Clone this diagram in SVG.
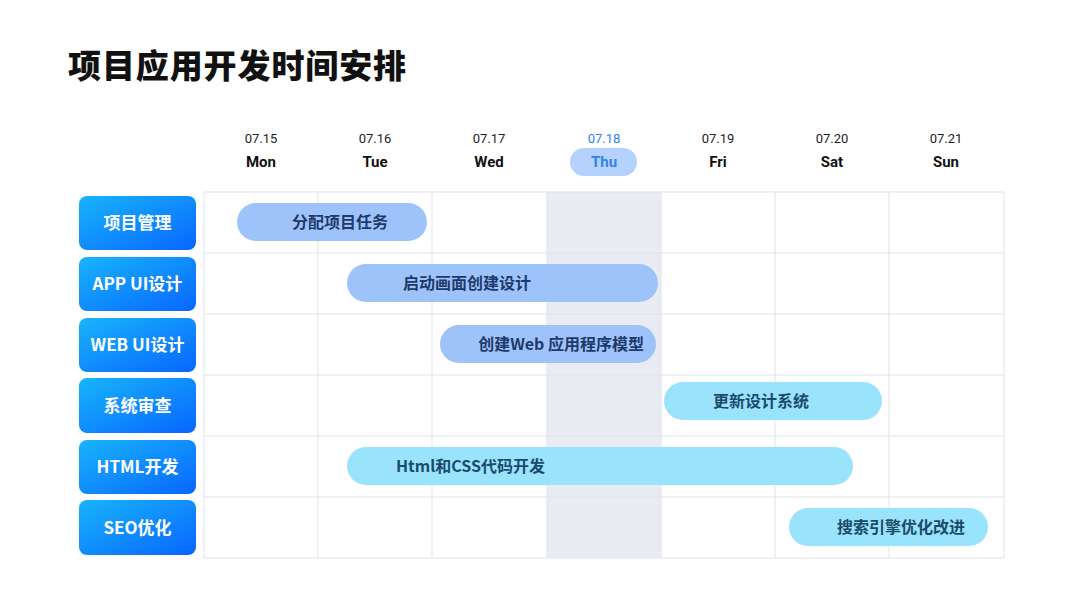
<svg xmlns="http://www.w3.org/2000/svg" width="1080" height="608" viewBox="0 0 1080 608">
<defs>
<linearGradient id="lg" x1="0" y1="0" x2="1" y2="1">
<stop offset="0" stop-color="#18b4fb"/>
<stop offset="1" stop-color="#0866ff"/>
</linearGradient>
<style>
text{font-family:"Noto Sans CJK SC","Noto Sans",Roboto,sans-serif}
.title{font-size:33px;font-weight:900;fill:#111;letter-spacing:0.9px}
.date{font-size:13px;fill:#222;font-family:Roboto,"Noto Sans",sans-serif}
.day{font-size:15px;font-weight:700;fill:#111;font-family:Roboto,"Noto Sans",sans-serif}
.grid{stroke:#e0e3e9;stroke-width:1;fill:none}
.lab rect{fill:url(#lg)}
.lab text{font-size:17px;font-weight:700;fill:#fff;text-anchor:middle}
.bb{fill:#9ec3fb}
.bc{fill:#9ae3fc}
.tb{font-size:16px;font-weight:700;fill:#1e3a6a}
.tc{font-size:16px;font-weight:700;fill:#1a4c6a}
</style>
</defs>
<rect width="1080" height="608" fill="#fff"/>
<text class="title" x="68" y="78">项目应用开发时间安排</text>

<g id="header">
<rect x="570" y="148" width="67" height="28" rx="14" fill="#b5d2fd"/>
<g text-anchor="middle">
<text class="date" x="261" y="143">07.15</text>
<text class="date" x="375" y="143">07.16</text>
<text class="date" x="489" y="143">07.17</text>
<text class="date" x="604" y="143" style="fill:#2f82ef">07.18</text>
<text class="date" x="718" y="143">07.19</text>
<text class="date" x="832" y="143">07.20</text>
<text class="date" x="946" y="143">07.21</text>
<text class="day" x="261" y="167">Mon</text>
<text class="day" x="375" y="167">Tue</text>
<text class="day" x="489" y="167">Wed</text>
<text class="day" x="604" y="167" style="fill:#2f82ef">Thu</text>
<text class="day" x="718" y="167">Fri</text>
<text class="day" x="832" y="167">Sat</text>
<text class="day" x="946" y="167">Sun</text>
</g>
</g>

<g id="grid">
<rect x="547" y="192" width="114" height="366" fill="#e9edf3"/>
<rect class="grid" x="204" y="192" width="800" height="366"/>
<path class="grid" d="M318 192V558M432 192V558M547 192V558M661 192V558M775 192V558M889 192V558M204 253H1004M204 314H1004M204 375H1004M204 436H1004M204 497H1004"/>
</g>

<g id="label-1" class="lab"><rect x="79" y="196" width="117" height="54" rx="8"/><text x="137.5" y="229">项目管理</text></g>
<g id="label-2" class="lab"><rect x="79" y="257" width="117" height="54" rx="8"/><text x="137.5" y="290">APP UI设计</text></g>
<g id="label-3" class="lab"><rect x="79" y="318" width="117" height="54" rx="8"/><text x="137.5" y="351">WEB UI设计</text></g>
<g id="label-4" class="lab"><rect x="79" y="378" width="117" height="55" rx="8"/><text x="137.5" y="412">系统审查</text></g>
<g id="label-5" class="lab"><rect x="79" y="440" width="117" height="54" rx="8"/><text x="137.5" y="473">HTML开发</text></g>
<g id="label-6" class="lab"><rect x="79" y="500" width="117" height="55" rx="8"/><text x="137.5" y="534">SEO优化</text></g>

<g id="bar-1"><rect class="bb" x="237" y="203" width="190" height="38" rx="19"/><text class="tb" x="340" y="228" text-anchor="middle">分配项目任务</text></g>
<g id="bar-2"><rect class="bb" x="347" y="264" width="311" height="38" rx="19"/><text class="tb" x="403" y="289">启动画面创建设计</text></g>
<g id="bar-3"><rect class="bb" x="440" y="325" width="216" height="38" rx="19"/><text class="tb" x="644" y="350" text-anchor="end">创建Web 应用程序模型</text></g>
<g id="bar-4"><rect class="bc" x="664" y="382" width="218" height="38" rx="19"/><text class="tc" x="713" y="407">更新设计系统</text></g>
<g id="bar-5"><rect class="bc" x="347" y="447" width="506" height="38" rx="19"/><text class="tc" x="396" y="472">Html和CSS代码开发</text></g>
<g id="bar-6"><rect class="bc" x="789" y="508" width="199" height="38" rx="19"/><text class="tc" x="837" y="533">搜索引擎优化改进</text></g>
</svg>
